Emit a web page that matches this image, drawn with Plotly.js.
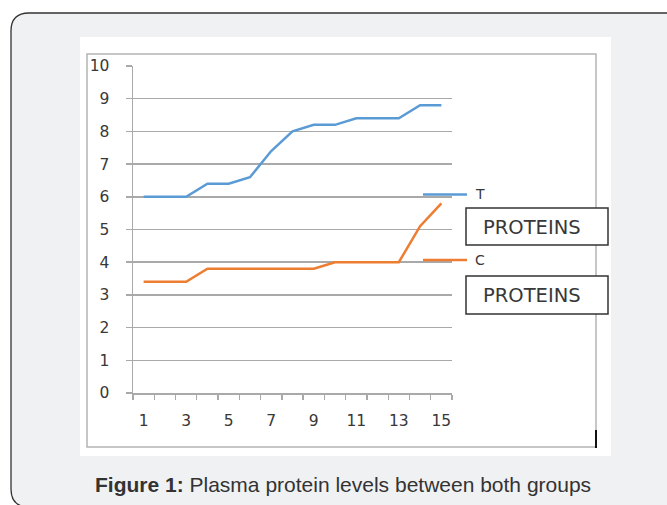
<!DOCTYPE html>
<html><head><meta charset="utf-8">
<script src="https://cdn.plot.ly/plotly-3.0.1.min.js"></script>
<style>html,body{margin:0;padding:0;background:#fff;overflow:hidden}#chart{width:667px;height:505px;}</style>
</head><body><div id="chart"></div>
<script>
// ---- data ----
const samples = [1,2,3,4,5,6,7,8,9,10,11,12,13,14,15];
const seriesT = [6.0,6.0,6.0,6.4,6.4,6.6,7.4,8.0,8.2,8.2,8.4,8.4,8.4,8.8,8.8];
const seriesC = [3.4,3.4,3.4,3.8,3.8,3.8,3.8,3.8,3.8,4.0,4.0,4.0,4.0,5.1,5.8];
const xTickVals = [1,3,5,7,9,11,13,15];
const xTickLabels = ['1','3','5','7','9','11','13','15'];
const seriesNames = ['T','C'];
const legendLabel = 'PROTEINS';
const captionBold = 'Figure 1:';
const captionText = 'Plasma protein levels between both groups';

// ---- layout helpers (pixel -> paper) ----
const W = 667, H = 505, L = 133, R = 452, T = 66, B = 393;
const px = x => (x - L) / (R - L);
const py = y => (B - y) / (B - T);
const blue = '#5b9bd5', orange = '#ed7d31', grid = '#a9a9a9';
const txt = '#383838';

const traces = [
  {x: samples, y: seriesT, name: seriesNames[0], type: 'scatter', mode: 'lines',
   line: {color: blue, width: 2.5}, hoverinfo: 'x+y'},
  {x: samples, y: seriesC, name: seriesNames[1], type: 'scatter', mode: 'lines',
   line: {color: orange, width: 2.5}, hoverinfo: 'x+y'}
];

// rounded outer box
const bx0 = 11, by0 = 13, bx1 = 700, by1 = 507, r = 18;
const boxPath = `M ${px(bx0)},${py(by1 - r)} Q ${px(bx0)},${py(by1)} ${px(bx0 + r)},${py(by1)} L ${px(bx1)},${py(by1)} L ${px(bx1)},${py(by0)} L ${px(bx0 + r)},${py(by0)} Q ${px(bx0)},${py(by0)} ${px(bx0)},${py(by0 + r)} Z`;

const shapes = [
  {type: 'path', xref: 'paper', yref: 'paper', path: boxPath, layer: 'below',
   fillcolor: '#f0f1f3', line: {color: '#333', width: 1.3}},
  {type: 'rect', xref: 'paper', yref: 'paper', x0: px(80), x1: px(611), y0: py(456), y1: py(37),
   layer: 'below', fillcolor: '#ffffff', line: {width: 0}},
  {type: 'rect', xref: 'paper', yref: 'paper', x0: px(87), x1: px(596), y0: py(447), y1: py(54),
   layer: 'below', fillcolor: 'rgba(0,0,0,0)', line: {color: '#b4b4b4', width: 1.5}},
  {type: 'line', xref: 'paper', yref: 'paper', x0: px(596), x1: px(596), y0: py(448), y1: py(430),
   layer: 'above', line: {color: '#111', width: 2}},
  // legend samples
  {type: 'line', xref: 'paper', yref: 'paper', x0: px(423), x1: px(467), y0: py(194.5), y1: py(194.5),
   layer: 'above', line: {color: blue, width: 2.5}},
  {type: 'line', xref: 'paper', yref: 'paper', x0: px(423), x1: px(467), y0: py(260), y1: py(260),
   layer: 'above', line: {color: orange, width: 2.5}},
  // legend boxes
  {type: 'rect', xref: 'paper', yref: 'paper', x0: px(466), x1: px(608), y0: py(245), y1: py(208),
   layer: 'above', fillcolor: '#fff', line: {color: '#333', width: 1.5}},
  {type: 'rect', xref: 'paper', yref: 'paper', x0: px(466), x1: px(608), y0: py(314), y1: py(276),
   layer: 'above', fillcolor: '#fff', line: {color: '#333', width: 1.5}}
];

const lgFont = {family: 'DejaVu Sans', size: 14, color: txt};
const boxFont = {family: 'DejaVu Sans', size: 19.5, color: txt};
const annotations = [
  {xref: 'paper', yref: 'paper', x: px(473), y: py(194), text: seriesNames[0], showarrow: false,
   xanchor: 'left', yanchor: 'middle', font: lgFont},
  {xref: 'paper', yref: 'paper', x: px(473), y: py(260), text: seriesNames[1], showarrow: false,
   xanchor: 'left', yanchor: 'middle', font: lgFont},
  {xref: 'paper', yref: 'paper', x: px(532), y: py(227), text: legendLabel, showarrow: false,
   xanchor: 'center', yanchor: 'middle', font: boxFont},
  {xref: 'paper', yref: 'paper', x: px(532), y: py(295), text: legendLabel, showarrow: false,
   xanchor: 'center', yanchor: 'middle', font: boxFont},
  {xref: 'paper', yref: 'paper', x: px(343), y: py(484), text: '<b>' + captionBold + '</b> ' + captionText,
   showarrow: false, xanchor: 'center', yanchor: 'middle',
   font: {family: 'Liberation Sans, Arial, sans-serif', size: 21, color: '#333'}}
];

const layout = {
  width: W, height: H,
  margin: {l: L, r: W - R, t: T, b: H - B, pad: 0},
  paper_bgcolor: '#ffffff', plot_bgcolor: 'rgba(0,0,0,0)',
  showlegend: false,
  font: {family: 'DejaVu Sans', color: txt},
  xaxis: {
    range: [0.5, 15.5], tickmode: 'array', tickvals: xTickVals, ticktext: xTickLabels,
    ticks: '', showgrid: false, zeroline: false, showline: true, linecolor: grid, linewidth: 1.5,
    tickfont: {family: 'DejaVu Sans', size: 15.5, color: txt}, ticklabelstandoff: 13,
    minor: {ticks: 'outside', tick0: 0.5, dtick: 1, ticklen: 5, tickwidth: 1.3, tickcolor: grid, showgrid: false},
    fixedrange: true
  },
  yaxis: {
    range: [0, 10], dtick: 1, tick0: 0, ticks: 'outside', ticklen: 6, tickwidth: 1.5, tickcolor: grid,
    showgrid: true, gridcolor: grid, gridwidth: 1.5, zeroline: false,
    showline: true, linecolor: grid, linewidth: 1.5,
    tickfont: {family: 'DejaVu Sans', size: 15.5, color: txt}, ticklabelstandoff: 13,
    fixedrange: true
  },
  shapes: shapes,
  annotations: annotations
};

Plotly.newPlot('chart', traces, layout, {displayModeBar: false, staticPlot: true});
</script>
</body></html>
